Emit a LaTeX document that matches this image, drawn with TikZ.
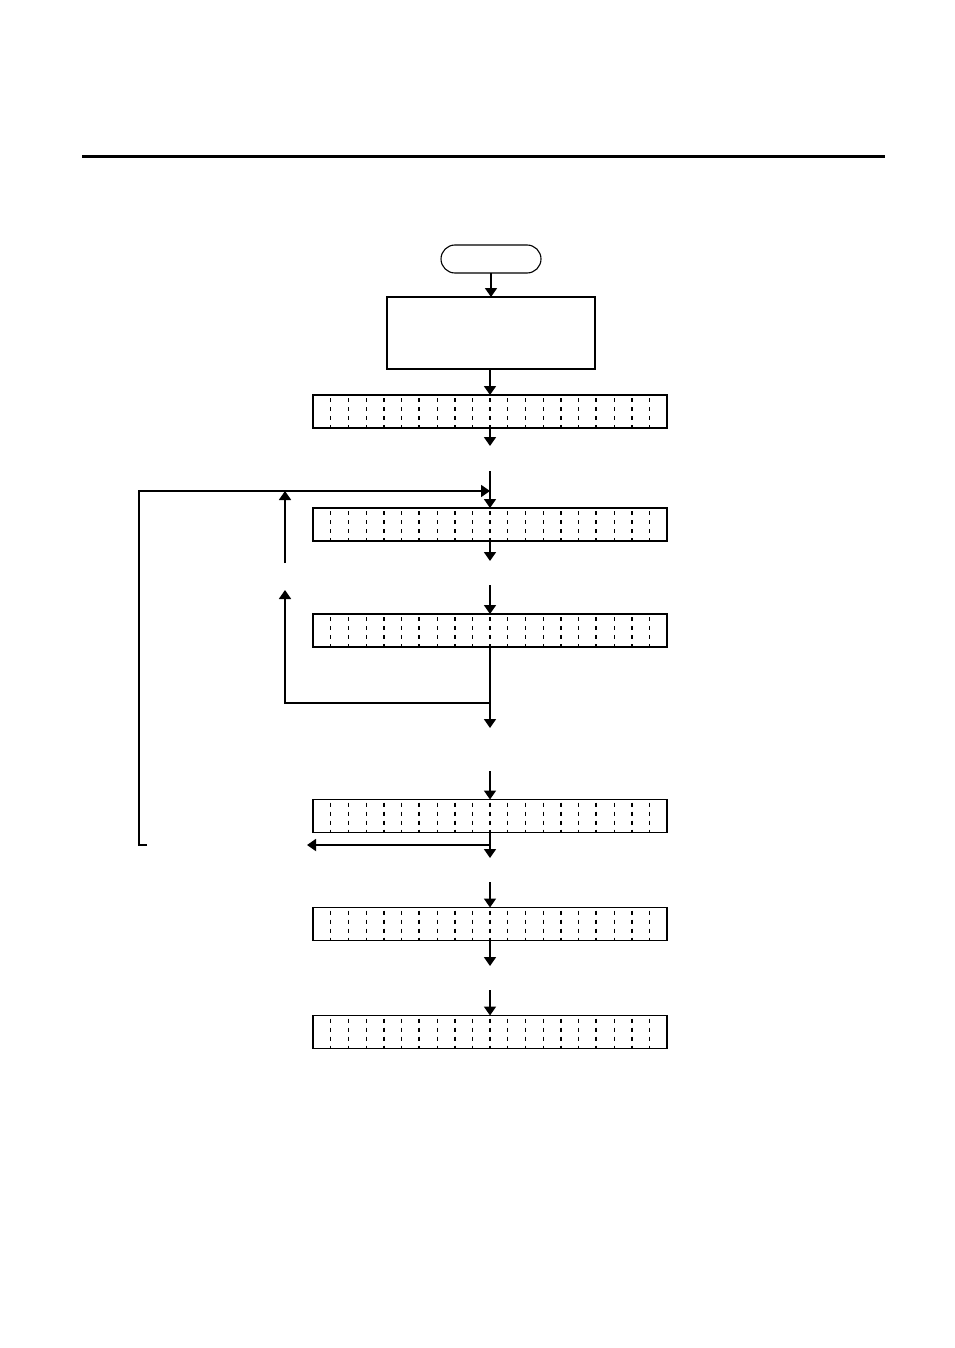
\documentclass[tikz,border=0pt]{standalone}
\usetikzlibrary{arrows.meta,calc}
\tikzset{
  flow/.style={line width=1.8pt,-{Triangle[width=12pt,length=9pt]}},
  link/.style={line width=1.8pt},
  lcdbox/.style={draw,line width=1.6pt,minimum width=354pt,minimum height=33pt,inner sep=0pt,outer sep=0pt},
  cellline/.style={dash pattern=on 4pt off 5pt,dash phase=-3pt},
}
\begin{document}
\begin{tikzpicture}[x=1pt,y=-1pt]
\useasboundingbox (0,0) rectangle (954,1348);
% heading rule
\draw[line width=3pt] (82,157) -- (885,157);
% start and set-up
\node[draw,line width=1.1pt,rounded corners=14pt,minimum width=100pt,minimum height=28pt,inner sep=0pt,outer sep=0pt] (start) at (491,259) {};
\node[draw,line width=2pt,minimum width=208pt,minimum height=72pt,inner sep=0pt,outer sep=0pt] (setup) at (491,333) {};
% displays
\node[lcdbox] (lcd1) at (490,411.5) {};
\node[lcdbox] (lcd2) at (490,524.5) {};
\node[lcdbox] (lcd3) at (490,630.5) {};
\node[lcdbox] (lcd4) at (490,816) {};
\node[lcdbox] (lcd5) at (490,924) {};
\node[lcdbox] (lcd6) at (490,1032) {};
\foreach \d in {lcd1,lcd2,lcd3,lcd4,lcd5,lcd6}{
  \foreach \i in {1,...,19}{
    \pgfmathsetmacro\w{isodd(\i) ? 0.8 : 1.8}
    \draw[cellline,line width=\w pt] ($(\d.north west)+(\i*17.7,0)$) -- ($(\d.south west)+(\i*17.7,0)$);
  }
}
% free ends
\coordinate (e1) at (490,446);
\coordinate (s2) at (490,471);
\coordinate (e2) at (490,561);
\coordinate (s3) at (490,585);
\coordinate (e3) at (490,728);
\coordinate (j3) at (490,703);
\coordinate (up1) at (285,590);
\coordinate (up2b) at (285,563);
\coordinate (up2t) at (285,491);
\coordinate (loopin) at (490,491);
\coordinate (s4) at (490,771);
\coordinate (e4) at (490,858);
\coordinate (j4) at (490,845);
\coordinate (back) at (307,845);
\coordinate (s5) at (490,882);
\coordinate (e5) at (490,966);
\coordinate (s6) at (490,990);
% connectors
\draw[flow] (start.south) -- (start.south |- setup.north);
\draw[flow] (setup.south -| lcd1.north) -- (lcd1.north);
\draw[flow] (lcd1.south) -- (e1);
\draw[flow] (s2) -- (lcd2.north);
\draw[flow] (lcd2.south) -- (e2);
\draw[flow] (s3) -- (lcd3.north);
\draw[flow] (lcd3.south) -- (e3);
\draw[flow] (j3) -- (j3 -| up1) -- (up1);
\draw[flow] (up2b) -- (up2t);
\draw[flow] (147,845) -- (139,845) -- (139,491) -- (loopin);
\draw[flow] (s4) -- (lcd4.north);
\draw[flow] (lcd4.south) -- (e4);
\draw[flow] (j4) -- (back);
\draw[flow] (s5) -- (lcd5.north);
\draw[flow] (lcd5.south) -- (e5);
\draw[flow] (s6) -- (lcd6.north);
\end{tikzpicture}
\end{document}
